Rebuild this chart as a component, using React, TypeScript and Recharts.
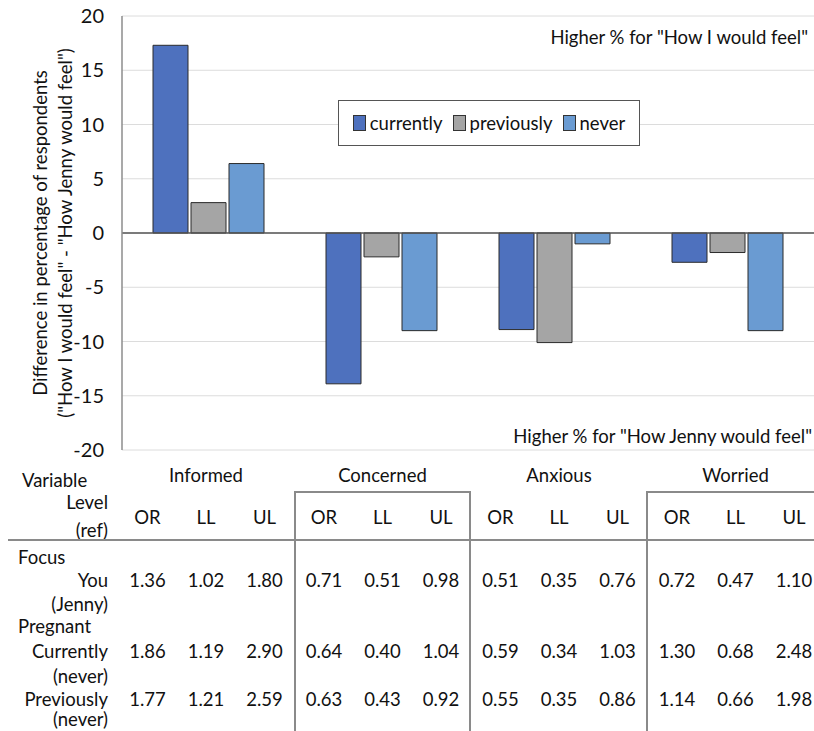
import React from 'react';
import { BarChart, Bar, XAxis, YAxis, CartesianGrid, ReferenceLine } from 'recharts';

const categories = ['Informed', 'Concerned', 'Anxious', 'Worried'];
const currently = [17.3, -13.9, -8.9, -2.7];
const previously = [2.8, -2.2, -10.1, -1.8];
const never = [6.4, -9.0, -1.0, -9.0];
const yTicks = [-20, -15, -10, -5, 0, 5, 10, 15, 20];

const seriesNames = ['currently', 'previously', 'never'];
const seriesColors = ['#4E71BE', '#A5A5A5', '#6A9BD2'];

const statCols = ['OR', 'LL', 'UL'];
const youRow = ['1.36', '1.02', '1.80', '0.71', '0.51', '0.98', '0.51', '0.35', '0.76', '0.72', '0.47', '1.10'];
const currentlyRow = ['1.86', '1.19', '2.90', '0.64', '0.40', '1.04', '0.59', '0.34', '1.03', '1.30', '0.68', '2.48'];
const previouslyRow = ['1.77', '1.21', '2.59', '0.63', '0.43', '0.92', '0.55', '0.35', '0.86', '1.14', '0.66', '1.98'];

const data = categories.map((c, i) => ({
  name: c,
  currently: currently[i],
  previously: previously[i],
  never: never[i],
}));

const FONT = 'Lato, "Open Sans", sans-serif';
const TXT = '#111';
const FS = 18.5;

const abs = (left: number, top: number, extra: React.CSSProperties = {}): React.CSSProperties => ({
  position: 'absolute',
  left,
  top,
  fontFamily: FONT,
  fontSize: FS,
  color: TXT,
  whiteSpace: 'nowrap',
  lineHeight: '20px',
  ...extra,
});

const YLabel = (props: any) => {
  const vb = props.viewBox || { y: 16, height: 434 };
  const cy = vb.y + vb.height / 2;
  return (
    <g>
      <text x={40} y={cy} transform={`rotate(-90, 40, ${cy})`} textAnchor="middle" dominantBaseline="central" fontFamily={FONT} fontSize={FS} fill={TXT}>
        Difference in percentage of respondents
      </text>
      <text x={65} y={cy} transform={`rotate(-90, 65, ${cy})`} textAnchor="middle" dominantBaseline="central" fontFamily={FONT} fontSize={FS} fill={TXT}>
        ("How I would feel" - "How Jenny would feel")
      </text>
    </g>
  );
};

const groupCenter = (g: number) => 206 + 176.5 * g;
const colX = (g: number, k: number) => groupCenter(g) + (k - 1) * 58.5;

const ValueRow = ({ vals, y }: { vals: string[]; y: number }) => (
  <>
    {vals.map((v, i) => {
      const g = Math.floor(i / 3);
      const k = i % 3;
      return (
        <div key={i} style={abs(colX(g, k) - 30, y - 10, { width: 60, textAlign: 'center' })}>
          {v}
        </div>
      );
    })}
  </>
);

const RightLabel = ({ text, y }: { text: string; y: number }) => (
  <div style={abs(0, y - 10, { width: 108, textAlign: 'right' })}>{text}</div>
);

export default function App() {
  return (
    <div style={{ position: 'absolute', left: 0, top: 0, width: 814, height: 731, background: '#fff', overflow: 'hidden' }}>
      <BarChart
        width={814}
        height={460}
        data={data}
        margin={{ top: 16, right: 0, left: 0, bottom: 10 }}
        barCategoryGap={31}
        barGap={3}
      >
        <CartesianGrid vertical={false} stroke="#dcdcdc" strokeWidth={1} />
        <XAxis dataKey="name" hide />
        <YAxis
          width={122}
          domain={[-20, 20]}
          ticks={yTicks}
          interval={0}
          tickLine={false}
          axisLine={{ stroke: '#8c8c8c', strokeWidth: 1.5 }}
          tick={{ fontFamily: FONT, fontSize: 20, fill: TXT }}
          tickMargin={12}
          label={<YLabel />}
        />
        <ReferenceLine y={0} stroke="#555" strokeWidth={1.5} />
        {seriesNames.map((n, i) => (
          <Bar key={n} dataKey={n} fill={seriesColors[i]} stroke="#2b2b2b" strokeWidth={1} isAnimationActive={false} />
        ))}
      </BarChart>

      {/* legend */}
      <div style={{ position: 'absolute', left: 338, top: 100, width: 302, height: 46, border: '1px solid #555', background: '#fff', boxSizing: 'border-box', display: 'flex', alignItems: 'center', justifyContent: 'center', fontFamily: FONT, fontSize: FS, color: TXT }}>
        {seriesNames.map((n, i) => (
          <div key={n} style={{ display: 'flex', alignItems: 'center', marginRight: i < 2 ? 10 : 0 }}>
            <div style={{ width: 11, height: 14, background: seriesColors[i], border: '1px solid #333', marginRight: 4 }} />
            <span>{n}</span>
          </div>
        ))}
      </div>

      <div style={abs(0, 27, { width: 808, textAlign: 'right' })}>Higher % for "How I would feel"</div>
      <div style={abs(0, 426, { width: 812, textAlign: 'right' })}>Higher % for "How Jenny would feel"</div>

      {/* table header */}
      <div style={abs(22, 470)}>Variable</div>
      {categories.map((c, g) => (
        <div key={c} style={abs(groupCenter(g) - 80, 465, { width: 160, textAlign: 'center' })}>{c}</div>
      ))}
      <RightLabel text="Level" y={502} />
      <RightLabel text="(ref)" y={530} />
      {categories.map((c, g) =>
        statCols.map((s, k) => (
          <div key={c + s} style={abs(colX(g, k) - 30, 507, { width: 60, textAlign: 'center' })}>{s}</div>
        ))
      )}

      {/* table lines */}
      <div style={{ position: 'absolute', left: 8, top: 539, width: 806, height: 2, background: '#8a8a8a' }} />
      <div style={{ position: 'absolute', left: 294, top: 491, width: 177, height: 240, borderLeft: '2px solid #8a8a8a', borderRight: '2px solid #8a8a8a', borderTop: '2px solid #8a8a8a', boxSizing: 'border-box' }} />
      <div style={{ position: 'absolute', left: 646, top: 491, width: 180, height: 240, borderLeft: '2px solid #8a8a8a', borderTop: '2px solid #8a8a8a', boxSizing: 'border-box' }} />

      {/* rows */}
      <div style={abs(18, 547)}>Focus</div>
      <RightLabel text="You" y={580} />
      <ValueRow vals={youRow} y={580} />
      <RightLabel text="(Jenny)" y={604} />
      <div style={abs(18, 616)}>Pregnant</div>
      <RightLabel text="Currently" y={651} />
      <ValueRow vals={currentlyRow} y={651} />
      <RightLabel text="(never)" y={676} />
      <RightLabel text="Previously" y={699} />
      <ValueRow vals={previouslyRow} y={699} />
      <RightLabel text="(never)" y={719} />
    </div>
  );
}
